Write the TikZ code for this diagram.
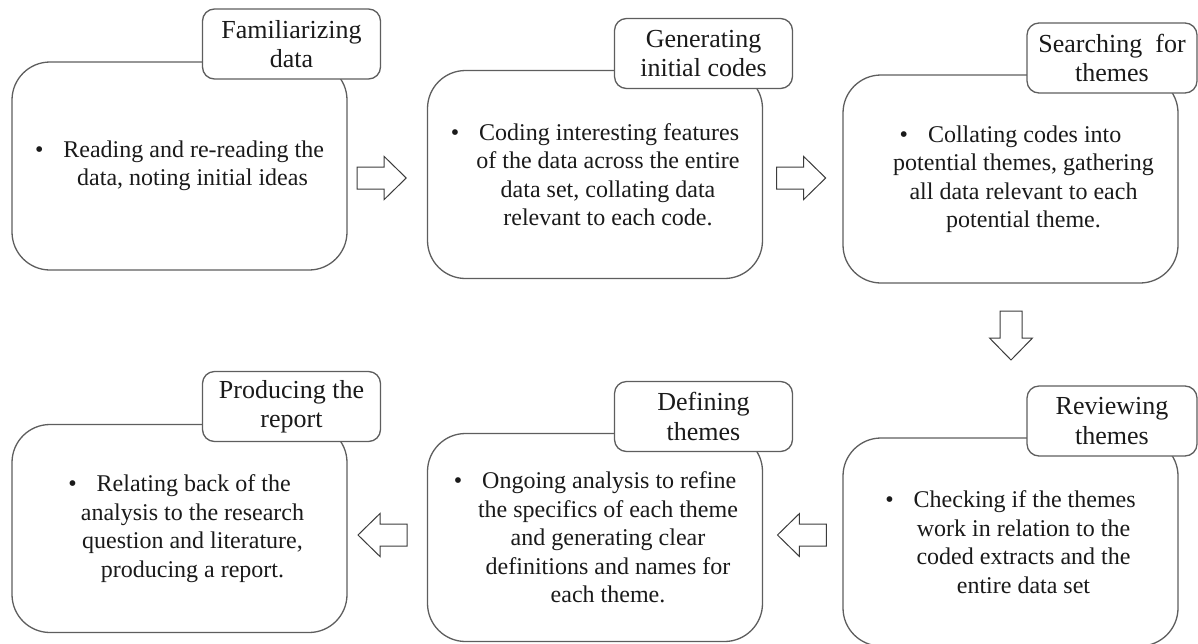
\documentclass[tikz,border=0pt]{standalone}
\usepackage{fontspec}
\setmainfont{Liberation Serif}
\usetikzlibrary{calc}
\definecolor{boxline}{HTML}{5E5E5E}
\definecolor{arrline}{HTML}{3C3C3C}
\definecolor{txt}{HTML}{1A1A1A}
\tikzset{
  stagebox/.style={draw=boxline, line width=1.3pt, fill=white, rounded corners=38pt,
    minimum width=335pt, minimum height=208pt, inner sep=0pt, align=center,
    text=txt, font=\fontsize{24}{28.5}\selectfont},
  tabbox/.style={draw=boxline, line width=1.3pt, fill=white, rounded corners=12pt,
    minimum width=178pt, minimum height=70pt, inner sep=0pt, align=center,
    text=txt, font=\fontsize{26}{29.5}\selectfont},
  blockarrow/.style={draw=arrline, line width=1pt, fill=white, line join=miter},
  flowarrow/.pic={\draw[blockarrow] (-24.5,-11) -- (2.5,-11) -- (2.5,-21.5) -- (24.5,0)
      -- (2.5,21.5) -- (2.5,11) -- (-24.5,11) -- cycle;}
}
\newcommand{\bul}{\textbullet\hspace{20pt}}
\newcommand{\ind}{\hspace*{26pt}}
\begin{document}
\begin{tikzpicture}[x=1pt,y=-1pt]
\useasboundingbox (0,0) rectangle (1198,643);
% stage boxes
\node[stagebox] (b1) at (179.5,166) {\bul Reading and re-reading the\\ \ind data, noting initial ideas};
\node[stagebox] (b2) at (595,174.5) {\bul Coding interesting features\\ \ind of the data across the entire\\ \ind data set, collating data\\ \ind relevant to each code.};
\node[stagebox] (b3) at (1010.5,179) {\bul Collating codes into\\ \ind potential themes, gathering\\ \ind all data relevant to each\\ \ind potential theme.};
\node[stagebox] (b4) at (179.5,528.5) {\bul Relating back of the\\ \ind analysis to the research\\ \ind question and literature,\\ \ind producing a report.};
\node[stagebox] (b5) at (595,537.5) {\bul Ongoing analysis to refine\\ \ind the specifics of each theme\\ \ind and generating clear\\ \ind definitions and names for\\ \ind each theme.};
\node[stagebox] (b6) at (1010.5,542) {\bul Checking if the themes\\ \ind work in relation to the\\ \ind coded extracts and the\\ \ind entire data set};
% tabs
\node[tabbox] (t1) at (291.5,44) {Familiarizing\\data};
\node[tabbox] (t2) at (703.5,53.5) {Generating\\initial codes};
\node[tabbox, minimum width=170pt] (t3) at (1112,58) {Searching\ \ for\\themes};
\node[tabbox] (t4) at (291.5,406.5) {Producing the\\report};
\node[tabbox] (t5) at (703.5,416.5) {Defining\\themes};
\node[tabbox, minimum width=170pt] (t6) at (1112,421) {Reviewing\\themes};
% block arrows between stages
\coordinate (a12) at ($(b1.east)!0.43!(b2.west)$);
\coordinate (a23) at ($(b2.east)!0.48!(b3.west)$);
\coordinate (a36) at ($(b3.south)!0.5!(b6.north)$);
\coordinate (a65) at ($(b5.east)!0.49!(b6.west)$);
\coordinate (a54) at ($(b4.east)!0.44!(b5.west)$);
\pic at (a12 |- 0,178) {flowarrow};
\pic at (a23 |- 0,178) {flowarrow};
\pic[rotate=-90] at (1011,335.5) {flowarrow};
\pic[rotate=180] at (a65 |- 0,535) {flowarrow};
\pic[rotate=180] at (a54 |- 0,535) {flowarrow};
\end{tikzpicture}
\end{document}
